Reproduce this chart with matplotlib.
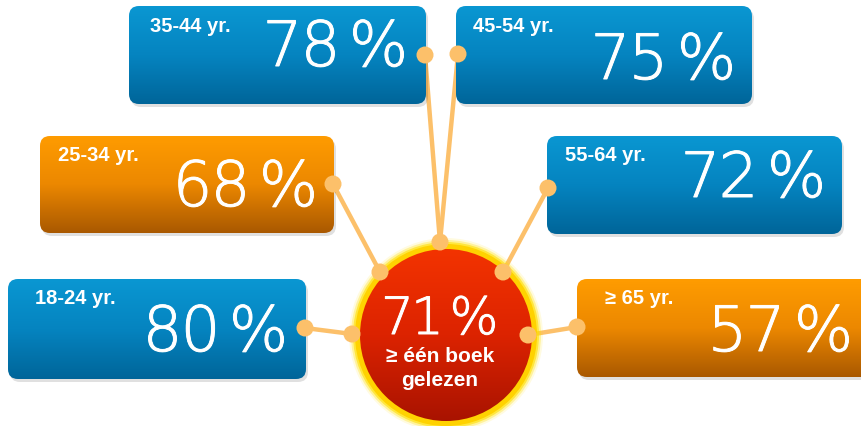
import numpy as np
import matplotlib
matplotlib.use("Agg")
import matplotlib.pyplot as plt
import matplotlib.patheffects as pe
from matplotlib.patches import FancyBboxPatch, Circle
from matplotlib.colors import LinearSegmentedColormap

# ---- data ----
age_groups = ["18-24 yr.", "25-34 yr.", "35-44 yr.", "45-54 yr.", "55-64 yr.", "\u2265 65 yr."]
read_pct = [80, 68, 78, 75, 72, 57]
total_pct = 71
total_label = ["\u2265 \u00e9\u00e9n boek", "gelezen"]
box_colors = ["blue", "orange", "blue", "blue", "blue", "orange"]

# ---- layout (pixel coords) ----
W, H = 861, 427
boxes = [  # x0, y0, x1, y1
    (8, 280, 306, 380),
    (40, 137, 334, 234),
    (129, 7, 426, 105),
    (456, 7, 752, 105),
    (547, 137, 842, 235),
    (577, 280, 880, 378),
]
label_dx = [27, 18, 21, 17, 18, 28]
num_baseline_dy = [72, 70, 60, 73, 61, 72]
num_right = [287, 317, 407, 735, 825, 852]
box_dots = [(305, 329), (333, 185), (425, 56), (458, 55), (548, 189), (577, 328)]
circ_dots = [(352, 335), (380, 273), (440, 243), (440, 243), (503, 273), (528, 336)]
cx, cy, cr = 446, 336, 90

fig = plt.figure(figsize=(W / 100, H / 100), dpi=100)
ax = fig.add_axes([0, 0, 1, 1])
ax.set_xlim(0, W)
ax.set_ylim(H, 0)
ax.axis("off")

grad = np.linspace(0, 1, 256).reshape(-1, 1)
cmaps = {
    "blue": LinearSegmentedColormap.from_list("b", ["#0a97d2", "#0584c0", "#006599"]),
    "orange": LinearSegmentedColormap.from_list("o", ["#ff9c00", "#ec8800", "#a95800"]),
}
red_cmap = LinearSegmentedColormap.from_list("r", ["#f43400", "#dc2300", "#a61200"])

NUM_FAMILY = ["DejaVu Sans"]
lbl_font = dict(family=["Liberation Sans", "DejaVu Sans"], fontweight="bold", color="white")
thicken = [pe.withStroke(linewidth=0.7, foreground="white")]


def draw_pct(right, baseline, text, size, offsets, z):
    """Place each character of a percentage with wide spacing (offsets from right edge)."""
    for ch, off in zip(text, offsets[-len(text):]):
        ax.text(right - off, baseline, ch, fontsize=size, ha="center", va="baseline",
                family=NUM_FAMILY, fontweight=200, color="white", zorder=z,
                path_effects=thicken)


# connector lines
line_col = "#fcc06a"
for (bx, by), (px, py) in zip(box_dots, circ_dots):
    ax.plot([bx, px], [by, py], color=line_col, lw=3.2, zorder=1, solid_capstyle="round")

for i, (lbl, val) in enumerate(zip(age_groups, read_pct)):
    x0, y0, x1, y1 = boxes[i]
    sh = FancyBboxPatch((x0 + 2, y0 + 3), x1 - x0, y1 - y0,
                        boxstyle="round,pad=0,rounding_size=10",
                        fc="#000000", ec="none", alpha=0.12, zorder=2)
    ax.add_patch(sh)
    p = FancyBboxPatch((x0, y0), x1 - x0, y1 - y0,
                       boxstyle="round,pad=0,rounding_size=10",
                       fc="none", ec="none", zorder=3)
    ax.add_patch(p)
    im = ax.imshow(grad, cmap=cmaps[box_colors[i]], extent=(x0, x1, y1, y0),
                   aspect="auto", zorder=3, interpolation="bilinear")
    im.set_clip_path(p)
    ax.text(x0 + label_dx[i], y0 + 19, lbl, fontsize=14.5, va="center", ha="left",
            zorder=5, **lbl_font)
    draw_pct(num_right[i], y0 + num_baseline_dy[i], f"{val}%", 45,
             [124.5, 86.5, 28.5], 5)

for (bx, by) in box_dots:
    ax.add_patch(Circle((bx, by), 8.5, fc=line_col, ec="none", zorder=6))

# central circle with glow
for r, a in [(cr + 7, 0.12), (cr + 5, 0.3), (cr + 3, 0.6)]:
    ax.add_patch(Circle((cx, cy), r, fc="#ffe000", ec="none", alpha=a, zorder=7))
ax.add_patch(Circle((cx, cy), cr + 1, fc="#ffd200", ec="none", zorder=7))
cp = Circle((cx, cy), cr - 4, fc="none", ec="none", zorder=8)
ax.add_patch(cp)
im = ax.imshow(grad, cmap=red_cmap, extent=(cx - cr, cx + cr, cy + cr, cy - cr),
               aspect="auto", zorder=8, interpolation="bilinear")
im.set_clip_path(cp)

draw_pct(500, 335, f"{total_pct}%", 37, [102.5, 72.5, 26], 9)
ax.text(440, 357, total_label[0], fontsize=15, ha="center", va="center", zorder=9, **lbl_font)
ax.text(440, 381, total_label[1], fontsize=15, ha="center", va="center", zorder=9, **lbl_font)

for (px, py) in set(circ_dots):
    ax.add_patch(Circle((px, py), 8.5, fc=line_col, ec="none", zorder=10))

fig.savefig("out.png", dpi=100)
